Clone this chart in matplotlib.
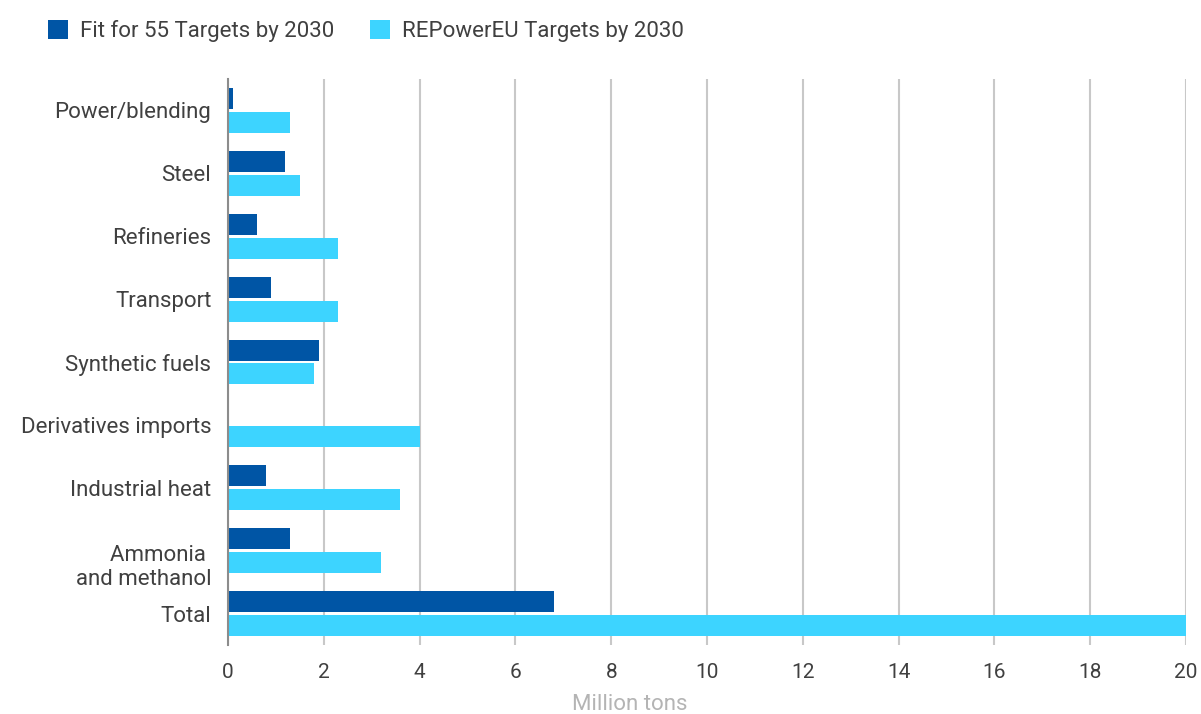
import numpy as np
import matplotlib
matplotlib.use("Agg")
import matplotlib.pyplot as plt
import matplotlib.transforms as mtransforms

plt.rcParams['font.family'] = ['Roboto', 'DejaVu Sans']

categories = ["Power/blending", "Steel", "Refineries", "Transport", "Synthetic fuels",
              "Derivatives imports", "Industrial heat", "Ammonia \nand methanol", "Total"]
fit55 = [0.1, 1.2, 0.6, 0.9, 1.9, 0.0, 0.8, 1.3, 6.8]
repower = [1.3, 1.5, 2.3, 2.3, 1.8, 4.0, 3.6, 3.2, 20.0]
series_names = ["Fit for 55 Targets by 2030", "REPowerEU Targets by 2030"]
xticks = list(range(0, 21, 2))

dark = "#0055a5"
light = "#3dd4ff"
text_col = "#404040"

fig = plt.figure(figsize=(12.01, 7.14), dpi=100)
ax = fig.add_axes([228 / 1201, 1 - 645 / 714, (1186 - 228) / 1201, (645 - 79) / 714])

y = np.arange(len(categories))
h = 0.335
off = 0.19
b1 = ax.barh(y - off, fit55, height=h, color=dark, label=series_names[0], zorder=3)
b2 = ax.barh(y + off, repower, height=h, color=light, label=series_names[1], zorder=3)

ax.set_xlim(0, 20)
ax.set_ylim(8.5, -0.5)
ax.set_xticks(xticks)
ax.set_yticks(y)
ax.set_yticklabels(categories, ha="right", multialignment="right", linespacing=1.15)
ax.tick_params(axis="y", length=0, pad=12, labelsize=16, labelcolor=text_col)
ax.tick_params(axis="x", length=0, pad=13, labelsize=15, labelcolor=text_col)

# two-line label sits lower in the reference
lbl = ax.get_yticklabels()[7]
lbl.set_transform(lbl.get_transform() + mtransforms.ScaledTranslation(0, -13 / 100, fig.dpi_scale_trans))

ax.grid(axis="x", color="#c8c8c8", linewidth=1.5, zorder=0)
for s in ["top", "right", "bottom"]:
    ax.spines[s].set_visible(False)
ax.spines["left"].set_color("#8c8c8c")
ax.spines["left"].set_linewidth(1.5)
ax.spines["left"].set_zorder(4)

fig.text(630 / 1201, 1 - 705 / 714, "Million tons", ha="center", va="center",
         fontsize=16, color="#b4b4b4")

fig.legend(handles=[b1, b2], loc="upper left", bbox_to_anchor=(28 / 1201, 1 - 0 / 714),
           ncol=2, frameon=False, fontsize=16, handlelength=0.9, handleheight=0.9,
           handletextpad=0.55, columnspacing=1.6, labelcolor=text_col)

fig.savefig("out.png", dpi=100)
